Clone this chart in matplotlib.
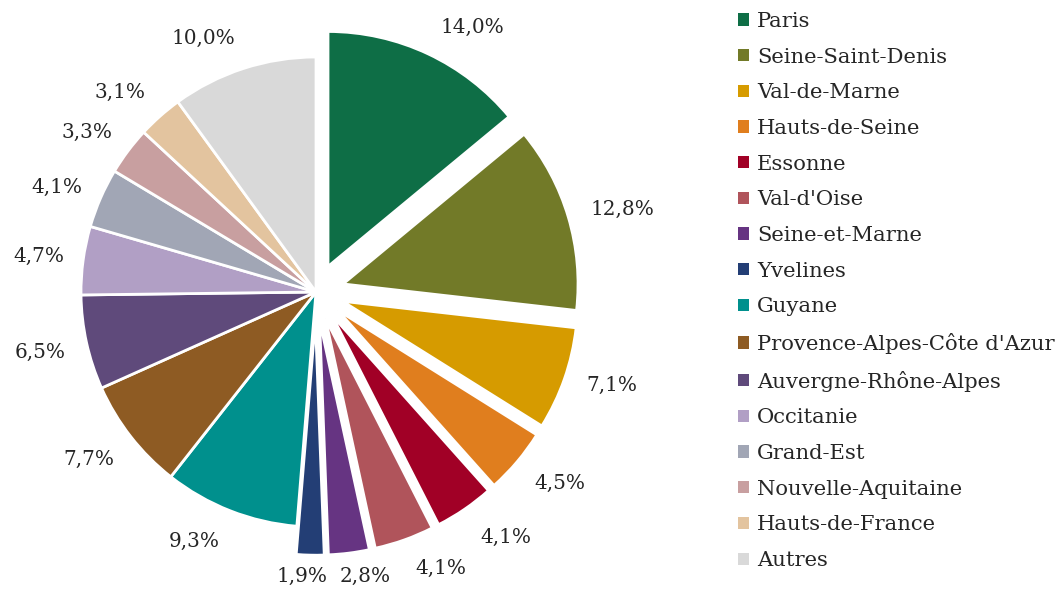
import numpy as np
import matplotlib
matplotlib.use("Agg")
import matplotlib.pyplot as plt
from matplotlib.patches import Patch

regions = ["Paris", "Seine-Saint-Denis", "Val-de-Marne", "Hauts-de-Seine", "Essonne",
           "Val-d'Oise", "Seine-et-Marne", "Yvelines", "Guyane",
           "Provence-Alpes-Côte d'Azur", "Auvergne-Rhône-Alpes", "Occitanie",
           "Grand-Est", "Nouvelle-Aquitaine", "Hauts-de-France", "Autres"]
shares = [14.0, 12.8, 7.1, 4.5, 4.1, 4.1, 2.8, 1.9, 9.3, 7.7, 6.5, 4.7, 4.1, 3.3, 3.1, 10.0]
colors = ["#0E6E46", "#727A28", "#D69B00", "#E07E1E", "#A10026", "#B0545B", "#663482",
          "#233E75", "#00908D", "#8E5B23", "#5F4A7B", "#B19FC5", "#A1A6B5", "#C89FA0",
          "#E3C49F", "#D9D9D9"]
# les départements d'Ile-de-France sont détachés
idf = ["Paris", "Seine-Saint-Denis", "Val-de-Marne", "Hauts-de-Seine", "Essonne",
       "Val-d'Oise", "Seine-et-Marne", "Yvelines"]
explode = [0.12 if r in idf else 0 for r in regions]

# petits décalages des étiquettes (degrés, distance en rayons) comme dans Excel
label_shift = [-5.9, -1.6, 1.9, 2.3, 3.8, 5.2, 2.8, -1.7, -4.6, -1.6, 0, 0.5, 1.6, 2, 3, 6]
label_dist = [1.19, 1.23, 1.2, 1.2, 1.2, 1.17, 1.11, 1.09, 1.18, 1.2, 1.2, 1.19, 1.19, 1.19, 1.19, 1.18]

plt.rcParams['font.family'] = ['DejaVu Serif']

fig = plt.figure(figsize=(10.64, 5.89), dpi=100)
W, H = 1064, 589
cx, cy, rpx = 316, 297, 235
ax = fig.add_axes([0, 0, 640 / W, 1])

wedges, texts, autotexts = ax.pie(
    shares, colors=colors, explode=explode, startangle=90, counterclock=False,
    autopct=lambda p: f"{p:.1f}".replace('.', ',') + "%", pctdistance=1.19,
    wedgeprops=dict(edgecolor='white', linewidth=2),
    textprops=dict(fontsize=14.4, color='#262626'))

for w, t, d, r in zip(wedges, autotexts, label_shift, label_dist):
    a = np.deg2rad((w.theta1 + w.theta2) / 2 + d)
    x0, y0 = w.center
    t.set_position((x0 + r * np.cos(a), y0 + r * np.sin(a)))

ax.set_xlim(-cx / rpx, (640 - cx) / rpx)
ax.set_ylim(-cy / rpx, (H - cy) / rpx)
ax.set_aspect('auto')
ax.axis('off')

handles = [Patch(facecolor=c, edgecolor='none') for c in colors]
fig.legend(handles, regions, loc='upper left', bbox_to_anchor=(738 / W, 1 - 12 / H),
           frameon=False, fontsize=15.2, handlelength=0.52, handleheight=0.52,
           handletextpad=0.38, labelspacing=0.79, borderpad=0, borderaxespad=0,
           labelcolor='#262626')

fig.savefig("out.png", dpi=100)
